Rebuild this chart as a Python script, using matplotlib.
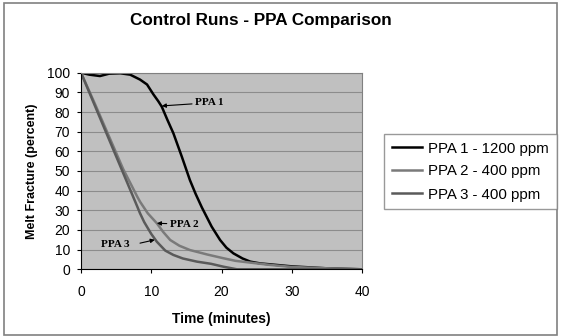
import matplotlib.pyplot as plt
from matplotlib.patches import Rectangle

plt.rcParams['font.family'] = ['Liberation Sans', 'DejaVu Sans']

# data (time in minutes, melt fracture in percent)
t1 = [0, 1.2, 2.7, 4, 5.6, 7, 8.4, 9.4, 10.3, 11, 11.5, 12.3, 13.15, 14.35, 15.5, 16.3, 17.2,
      18.6, 19.8, 20.7, 21.7, 23, 24.1, 25.5, 27, 30, 35, 40]
ppa1 = [100, 99, 98.3, 99.5, 99.7, 99, 96.5, 94, 89, 85.5, 82.7, 76, 69.2, 57.3, 45.4, 38.5, 31.5,
        21.7, 14.9, 11, 8.1, 5.5, 3.9, 3, 2.5, 1.5, 0.5, 0]

t2 = [0, 2, 4, 6, 7, 8, 8.4, 9.5, 10.8, 11.7, 12.7, 14, 15.5, 18, 20.3, 22, 24.1, 27, 30, 35, 40]
ppa2 = [100, 84, 67.5, 51, 44, 37, 34.4, 28.5, 23.4, 19, 14.9, 12, 9.8, 7.5, 5.6, 4.3, 3.4, 2.2,
        1.2, 0.5, 0]

t3 = [0, 2, 4, 6, 7, 8, 8.4, 9, 10, 10.8, 12, 13.15, 14.5, 16.5, 18.5, 20.3, 22.2, 30, 40]
ppa3 = [100, 83, 66, 49, 40.5, 32, 28.5, 24, 18, 14, 9.5, 7.3, 5.5, 3.9, 2.8, 1.3, 0, 0, 0]

labels = ['PPA 1 - 1200 ppm', 'PPA 2 - 400 ppm', 'PPA 3 - 400 ppm']
colors = ['#000000', '#7a7a7a', '#5a5a5a']

fig = plt.figure(figsize=(5.63, 3.36), dpi=100)
fig.patches.append(Rectangle((4 / 563, 1 / 336), 553 / 563, 332 / 336, transform=fig.transFigure,
                             fill=False, edgecolor='#808080', linewidth=1.2))

ax = fig.add_axes([81 / 563, 1 - 269.3 / 336, 281 / 563, 196.6 / 336])
ax.set_facecolor('#c0c0c0')

lines = []
for t, y, c in zip([t1, t2, t3], [ppa1, ppa2, ppa3], colors):
    ln, = ax.plot(t, y, color=c, linewidth=1.8, solid_joinstyle='round')
    lines.append(ln)

ax.set_xlim(0, 40)
ax.set_ylim(0, 100)
ax.set_xticks(range(0, 41, 10))
ax.set_yticks(range(0, 101, 10))
ax.yaxis.grid(True, color='#8c8c8c', linewidth=0.8)
ax.set_axisbelow(True)
ax.tick_params(labelsize=10, length=3, colors='#000000')
ax.tick_params(axis='x', pad=8.5)
ax.tick_params(axis='y', pad=5)
for s in ['top', 'right']:
    ax.spines[s].set_color('#808080')
ax.set_xlabel('Time (minutes)', fontsize=10, fontweight='bold', labelpad=9)
ax.set_ylabel('Melt Fracture (percent)', fontsize=9, fontweight='bold', labelpad=6)

fig.text(261 / 563, 1 - 20 / 336, 'Control Runs - PPA Comparison', ha='center', va='center',
         fontsize=12.3, fontweight='bold')

ann = dict(fontsize=8, fontweight='bold', family='Liberation Serif', va='center')
arrow = dict(arrowstyle='-|>', color='black', lw=0.8, mutation_scale=6, shrinkA=0, shrinkB=0)
ax.annotate('PPA 1', xy=(11.5, 83.1), xytext=(16.2, 84.7), arrowprops=arrow, **ann)
ax.annotate('PPA 2', xy=(10.8, 23.4), xytext=(12.6, 23), arrowprops=arrow, **ann)
ax.annotate('', xy=(10.5, 15), xytext=(8.4, 13.3), arrowprops=arrow)
ax.text(2.9, 12.7, 'PPA 3', **ann)

fig.legend(lines, labels, loc='upper left', bbox_to_anchor=(384 / 563, 1 - 134 / 336),
           fontsize=10.8, frameon=True, fancybox=False, edgecolor='#808080', handlelength=2.0,
           handletextpad=0.45, borderpad=0.5, labelspacing=0.6, borderaxespad=0)

fig.savefig('out.png', dpi=100)
